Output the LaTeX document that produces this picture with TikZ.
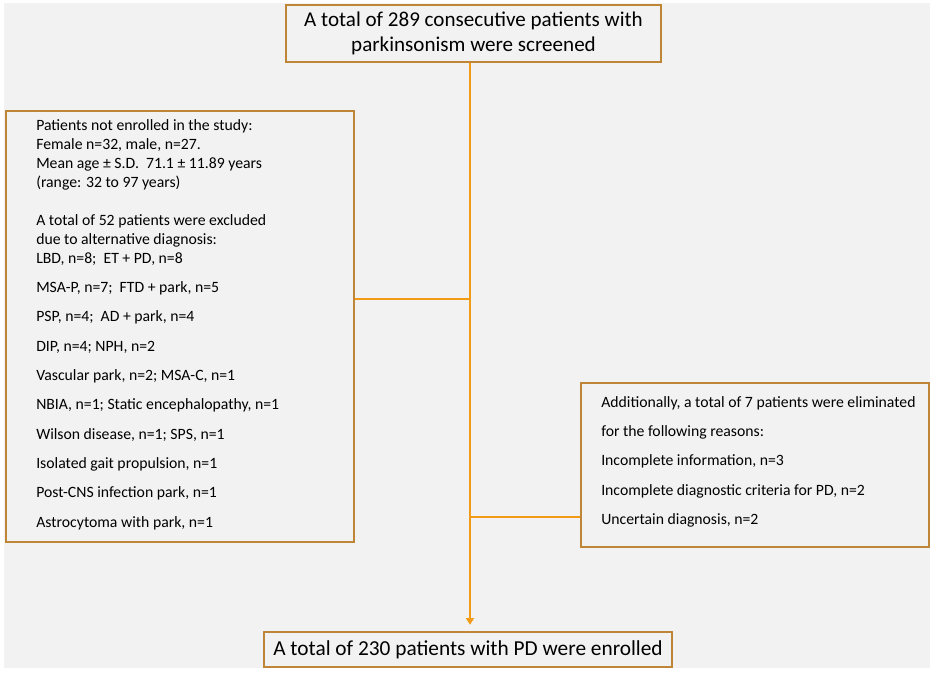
\documentclass[tikz,border=0pt]{standalone}
\usepackage{fontspec}
\setmainfont{Carlito}
\usetikzlibrary{arrows.meta}
\definecolor{boxline}{RGB}{192,134,56}
\definecolor{connline}{RGB}{242,155,22}
\definecolor{canvas}{RGB}{242,242,242}
\tikzset{
  box/.style={draw=boxline, line width=0.9pt, fill=canvas, inner sep=0pt},
  conn/.style={draw=connline, line width=1.5pt},
  boxtext/.style={anchor=north west, align=left, inner sep=0pt}
}
\begin{document}
\begin{tikzpicture}[x=0.75pt,y=-0.75pt]
  \useasboundingbox (0,0) rectangle (935,673);
  \fill[canvas] (4,3) rectangle (930,668);
  \node[box, minimum width=281.25pt, minimum height=42.75pt, align=center,
    font=\fontsize{15.8}{18.75}\selectfont] (screen) at (473.5,33.5)
    {A total of 289 consecutive patients with\\parkinsonism were screened};
  \node[box, minimum width=261pt, minimum height=323.25pt] (excl) at (180,326.5) {};
  \node[box, minimum width=261pt, minimum height=123pt] (addl) at (755,465) {};
  \node[box, minimum width=306pt, minimum height=26.25pt,
    font=\fontsize{16}{18}\selectfont] (enrol) at (468,649.5)
    {A total of 230 patients with PD were enrolled};
  \node[boxtext, font=\fontsize{11.8}{14.25}\selectfont] (excltxt) at (36,119)
    {Patients not enrolled in the study:\\
     Female n=32, male, n=27.\\
     Mean age ± S.D.\ \ 71.1 ± 11.89 years\\
     (range: 32 to 97 years)\\[14.25pt]
     A total of 52 patients were excluded\\
     due to alternative diagnosis:\\
     LBD, n=8;\ \ ET + PD, n=8\\[7.75pt]
     MSA-P, n=7;\ \ FTD + park, n=5\\[7.75pt]
     PSP, n=4;\ \ AD + park,\ n=4\\[7.75pt]
     DIP, n=4; NPH,\ n=2\\[7.75pt]
     Vascular park, n=2; MSA-C, n=1\\[7.75pt]
     NBIA, n=1; Static encephalopathy,\ n=1\\[7.75pt]
     Wilson disease, n=1; SPS, n=1\\[7.75pt]
     Isolated gait propulsion,\ n=1\\[7.75pt]
     Post-CNS infection park, n=1\\[7.75pt]
     Astrocytoma\ with park, n=1};
  \node[boxtext, font=\fontsize{11.8}{22}\selectfont] (addltxt) at (601,396)
    {Additionally, a total of 7 patients were eliminated\\
     for the following reasons:\\
     Incomplete\ information, n=3\\
     Incomplete\ diagnostic criteria for PD, n=2\\
     Uncertain diagnosis, n=2};
  \coordinate (spine) at (470,0);
  \coordinate (j1) at (470,299);
  \coordinate (j2) at (470,517);
  \draw[conn, -{Triangle[width=6pt,length=5pt]}, shorten >=5pt]
    (screen.south -| spine) -- (enrol.north -| spine);
  \draw[conn] (j1) -- (excl.east |- j1);
  \draw[conn] (j2) -- (addl.west |- j2);
\end{tikzpicture}
\end{document}
